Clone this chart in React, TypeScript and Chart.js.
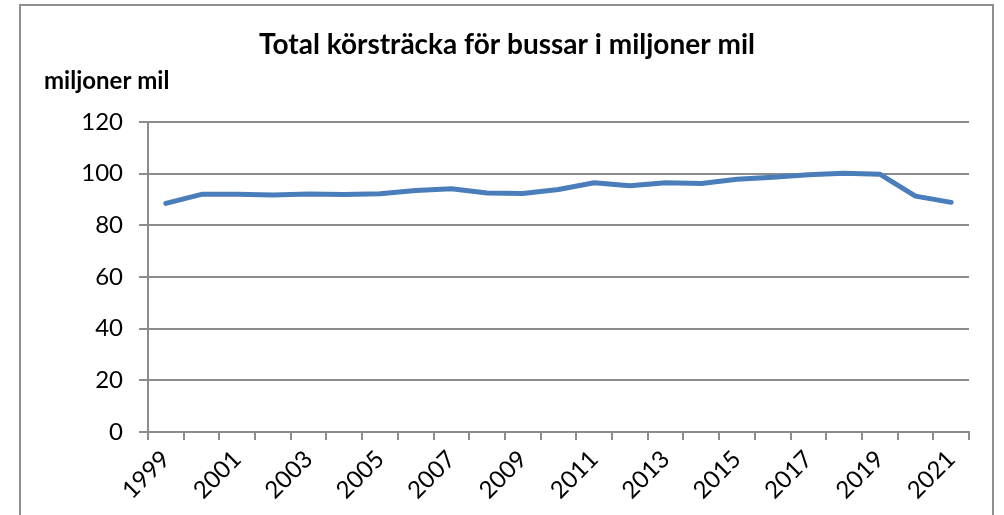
import React, { useEffect, useRef } from "react";
import { Chart, registerables } from "chart.js";

Chart.register(...registerables);

const years: string[] = [
  "1999", "2000", "2001", "2002", "2003", "2004", "2005", "2006", "2007", "2008", "2009", "2010",
  "2011", "2012", "2013", "2014", "2015", "2016", "2017", "2018", "2019", "2020", "2021",
];
const distance: number[] = [
  88.5, 92.0, 92.0, 91.7, 92.1, 91.9, 92.2, 93.5, 94.2, 92.5, 92.3, 93.9,
  96.5, 95.3, 96.5, 96.2, 97.8, 98.6, 99.6, 100.2, 99.8, 91.3, 88.9,
];
const titleText = "Total körsträcka för bussar i miljoner mil";
const unitText = "miljoner mil";

const FONT = "Lato, 'Open Sans', sans-serif";
const GRID = "#8c8c8c";

const framePlugin = {
  id: "frameAndTexts",
  beforeDraw(chart: any) {
    const ctx = chart.ctx;
    ctx.save();
    ctx.fillStyle = "#ffffff";
    ctx.fillRect(0, 0, chart.width, chart.height);
    ctx.strokeStyle = "#8f8f8f";
    ctx.lineWidth = 2;
    ctx.strokeRect(20, 5, 973, 600);
    ctx.restore();
  },
  afterDraw(chart: any) {
    const ctx = chart.ctx;
    ctx.save();
    ctx.fillStyle = "#000000";
    ctx.textBaseline = "alphabetic";
    ctx.textAlign = "center";
    ctx.font = `bold 28px ${FONT}`;
    ctx.fillText(titleText, 507, 54);
    ctx.textAlign = "left";
    ctx.font = `bold 24px ${FONT}`;
    ctx.fillText(unitText, 44, 89);
    ctx.restore();
  },
};

export default function App() {
  const ref = useRef<HTMLCanvasElement | null>(null);
  useEffect(() => {
    if (!ref.current) return;
    const chart = new Chart(ref.current, {
      type: "line",
      data: {
        labels: years,
        datasets: [
          {
            data: distance,
            borderColor: "#4A7EBB",
            borderWidth: 5,
            pointRadius: 0,
            tension: 0,
            borderCapStyle: "round",
            borderJoinStyle: "round",
          },
        ],
      },
      options: {
        animation: false,
        responsive: false,
        maintainAspectRatio: false,
        layout: { padding: { left: 0, top: 122, right: 35, bottom: 0 } },
        plugins: {
          legend: { display: false },
          title: { display: false },
          tooltip: { enabled: false },
        },
        scales: {
          x: {
            type: "category",
            offset: true,
            grid: {
              offset: true,
              drawOnChartArea: false,
              drawTicks: true,
              tickLength: 8,
              color: GRID,
              lineWidth: 2,
            },
            border: { display: true, color: GRID, width: 2 },
            ticks: {
              autoSkip: false,
              maxRotation: 45,
              minRotation: 45,
              color: "#000000",
              font: { family: FONT, size: 24 },
              padding: 5,
              callback: (_v: any, i: number) => (i % 2 === 0 ? years[i] : ""),
            },
            afterFit: (scale: any) => {
              scale.height = 83;
            },
          },
          y: {
            min: 0,
            max: 120,
            grid: {
              drawOnChartArea: true,
              drawTicks: true,
              tickLength: 9,
              color: GRID,
              lineWidth: 2,
            },
            border: { display: true, color: GRID, width: 2 },
            ticks: {
              stepSize: 20,
              color: "#000000",
              font: { family: FONT, size: 24 },
              padding: 16,
            },
            afterFit: (scale: any) => {
              scale.width = 148;
            },
          },
        },
      },
      plugins: [framePlugin],
    });
    return () => chart.destroy();
  }, []);
  return (
    <div style={{ position: "absolute", left: 0, top: 0, width: 1004, height: 515 }}>
      <canvas ref={ref} width={1004} height={515} style={{ display: "block", width: 1004, height: 515 }} />
    </div>
  );
}
